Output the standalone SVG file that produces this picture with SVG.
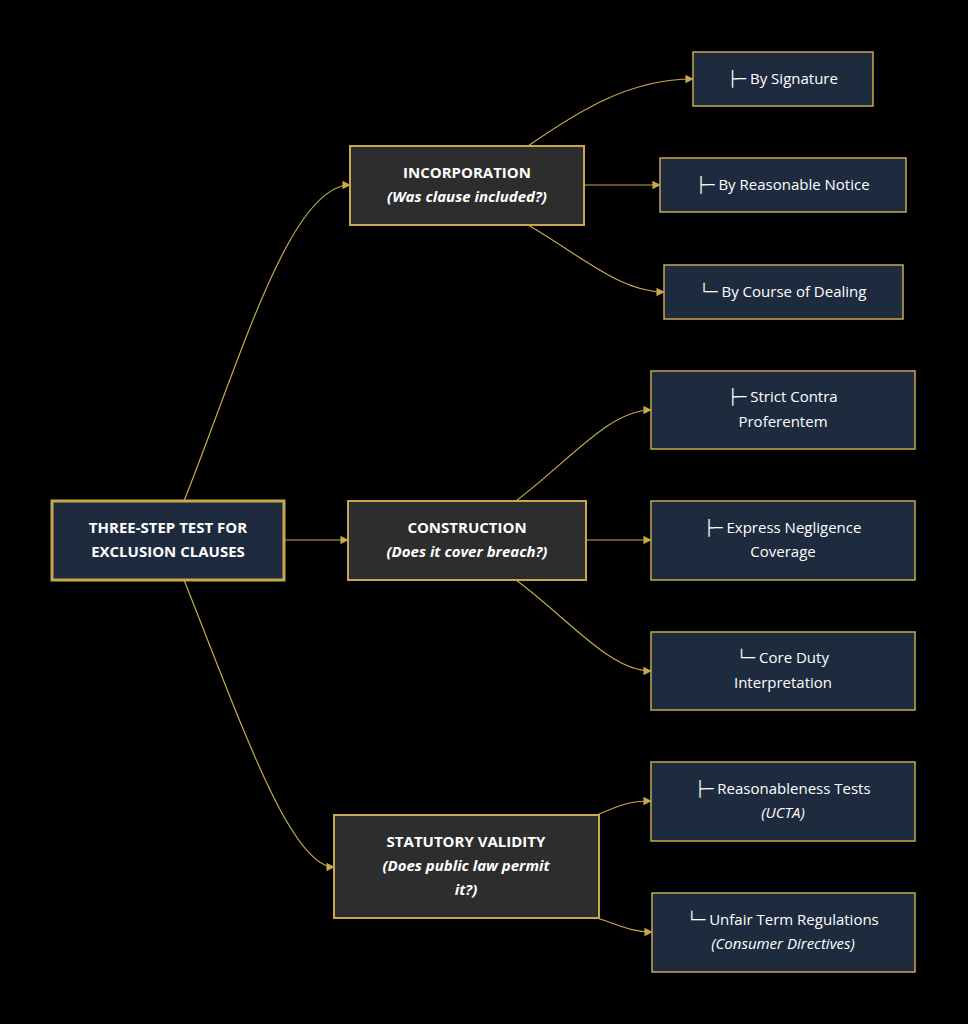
<svg xmlns="http://www.w3.org/2000/svg" width="968" height="1024" viewBox="0 0 968 1024">
<style>
.n{fill:#1e2b3f;stroke:#c9a84c;stroke-width:1.5}
.d{fill:#2d2d2d;stroke:#c9a84c;stroke-width:2}
.r{fill:#1e2b3f;stroke:#c9a84c;stroke-width:3}
text{font-family:"Open Sans","DejaVu Sans",sans-serif;fill:#ffffff;font-size:15px;text-anchor:middle}
.b{font-weight:bold}
.i{font-style:italic}
.e{fill:none;stroke:#c9a84c;stroke-width:1.2;marker-end:url(#a)}
</style>
<defs><marker id="a" viewBox="0 0 10 10" refX="9" refY="5" markerWidth="7" markerHeight="7" orient="auto"><path d="M0,0L10,5L0,10z" fill="#c9a84c"/></marker></defs>
<rect width="968" height="1024" fill="#000"/>
<g id="connectors">
<path class="e" d="M184,501C240,360 290,185 350,185"/>
<path class="e" d="M284,540L348,540"/>
<path class="e" d="M184,580C240,720 290,867 334,867"/>
<path class="e" d="M528,146C580,110 630,79 693,79"/>
<path class="e" d="M584,185L660,185"/>
<path class="e" d="M528,225C580,255 620,292 664,292"/>
<path class="e" d="M516,501C570,460 610,410 651,410"/>
<path class="e" d="M586,540L651,540"/>
<path class="e" d="M516,580C570,620 610,671 651,671"/>
<path class="e" d="M597,815C620,805 630,801 651,801"/>
<path class="e" d="M597,918C620,925 630,932 652,932"/>
</g>
<g id="root"><rect class="r" x="52" y="501" width="232" height="79"/><text class="b" x="168" y="533">THREE-STEP TEST FOR</text><text class="b" x="168" y="557">EXCLUSION CLAUSES</text></g>
<g id="incorporation"><rect class="d" x="350" y="146" width="234" height="79"/><text class="b" x="467" y="178">INCORPORATION</text><text class="b i" x="467" y="202">(Was clause included?)</text></g>
<g id="construction"><rect class="d" x="348" y="501" width="238" height="79"/><text class="b" x="467" y="533">CONSTRUCTION</text><text class="b i" x="467" y="557">(Does it cover breach?)</text></g>
<g id="statutory"><rect class="d" x="334" y="815" width="265" height="103"/><text class="b" x="466" y="847">STATUTORY VALIDITY</text><text class="b i" x="466" y="871">(Does public law permit</text><text class="b i" x="466" y="895">it?)</text></g>
<g id="sig"><rect class="n" x="693" y="52" width="180" height="54"/><text x="783" y="84">├─ By Signature</text></g>
<g id="notice"><rect class="n" x="660" y="158" width="246" height="54"/><text x="783" y="190">├─ By Reasonable Notice</text></g>
<g id="dealing"><rect class="n" x="664" y="265" width="239" height="54"/><text x="783" y="297">└─ By Course of Dealing</text></g>
<g id="strict"><rect class="n" x="651" y="371" width="264" height="78"/><text x="783" y="402">├─ Strict Contra</text><text x="783" y="427">Proferentem</text></g>
<g id="express"><rect class="n" x="651" y="501" width="264" height="79"/><text x="783" y="533">├─ Express Negligence</text><text x="783" y="557">Coverage</text></g>
<g id="core"><rect class="n" x="651" y="632" width="264" height="78"/><text x="783" y="663">└─ Core Duty</text><text x="783" y="688">Interpretation</text></g>
<g id="reason"><rect class="n" x="651" y="762" width="264" height="79"/><text x="783" y="794">├─ Reasonableness Tests</text><text class="i" x="783" y="818">(UCTA)</text></g>
<g id="unfair"><rect class="n" x="652" y="893" width="263" height="79"/><text x="783" y="925">└─ Unfair Term Regulations</text><text class="i" x="783" y="949">(Consumer Directives)</text></g>
</svg>
